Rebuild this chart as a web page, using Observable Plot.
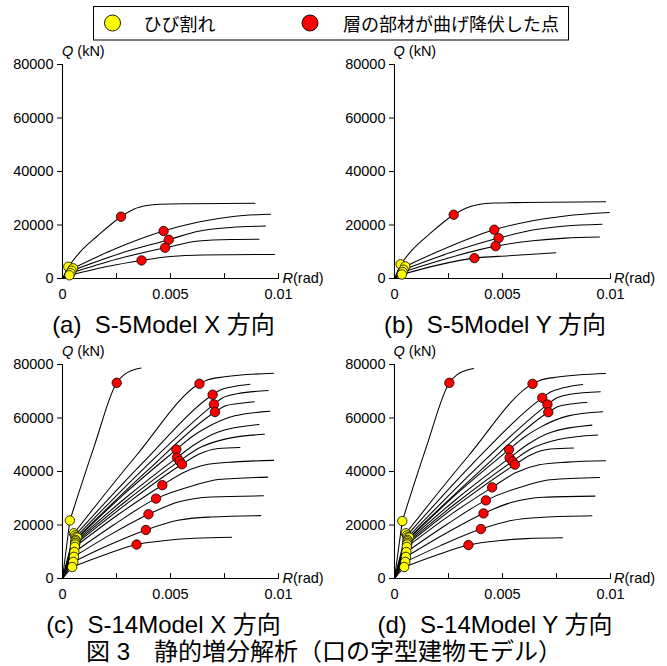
<!DOCTYPE html>
<html><head><meta charset="utf-8">
<script src="https://cdn.jsdelivr.net/npm/d3@7"></script>
<script src="https://cdn.jsdelivr.net/npm/@observablehq/plot@0.6"></script>
<style>
body{margin:0;background:#fff;}
#fig{position:relative;width:667px;height:666px;overflow:hidden;background:#fff;}
#fig svg{position:absolute;}
</style></head><body><div id="fig"></div>
<script>
// ---------- data (R in rad, Q in kN) ----------
const xTicks = [0.0025, 0.005, 0.0075, 0.01];
const xLabels = [0, 0.005, 0.01];
const yTicks = [0, 20000, 40000, 60000, 80000];

const legendLabels = ["ひび割れ", "層の部材が曲げ降伏した点"];
const panelCaptions = ["(a)  S-5Model X 方向", "(b)  S-5Model Y 方向", "(c)  S-14Model X 方向", "(d)  S-14Model Y 方向"];
const figureCaption = "図 3　静的増分解析（口の字型建物モデル）";

// (a) S-5Model X
const aCracks = [[0.00027,4400],[0.00049,3800],[0.00042,2900],[0.00037,2000],[0.00032,1200]];
const aYields = [[0.00271,23100],[0.00468,17750],[0.00492,14500],[0.00475,11500],[0.00366,6750]];
const aCurves = [
  [[0,0],[0.00027,4400],[0.0008,9800],[0.0016,15800],[0.00271,23100],[0.0033,25900],[0.0039,27250],[0.0045,27750],[0.006,27950],[0.00891,28100]],
  [[0,0],[0.00049,3800],[0.0025,11300],[0.00468,17750],[0.0063,21100],[0.0079,23200],[0.00963,24000]],
  [[0,0],[0.00042,2900],[0.0026,9200],[0.00492,14500],[0.0063,17700],[0.0078,19100],[0.0094,19650]],
  [[0,0],[0.00037,2000],[0.0025,7200],[0.00475,11500],[0.0063,14000],[0.0078,14600],[0.00909,14700]],
  [[0,0],[0.00032,1200],[0.002,4400],[0.00366,6750],[0.005,8200],[0.0065,8800],[0.00982,9000]]
];

// (b) S-5Model Y
const bCracks = [[0.00028,5300],[0.0005,4500],[0.00042,3300],[0.00038,2400],[0.00034,1500]];
const bYields = [[0.00274,23840],[0.00462,18220],[0.00482,15100],[0.00468,12100],[0.0037,7610]];
const bCurves = [
  [[0,0],[0.00028,5300],[0.0008,10500],[0.0016,16500],[0.00274,23840],[0.0033,26300],[0.0039,27700],[0.0046,28200],[0.006,28400],[0.00977,28700]],
  [[0,0],[0.0005,4500],[0.0025,11800],[0.00462,18220],[0.0064,21600],[0.0079,23400],[0.00995,24700]],
  [[0,0],[0.00042,3300],[0.0026,9700],[0.00482,15100],[0.0064,18100],[0.0079,19600],[0.00961,20300]],
  [[0,0],[0.00038,2400],[0.0025,7700],[0.00468,12100],[0.0064,14100],[0.0079,15100],[0.00949,15500]],
  [[0,0],[0.00034,1500],[0.002,5000],[0.0037,7610],[0.0053,8500],[0.0064,9100],[0.00747,9600]]
];

// (c) S-14Model X
const cCracks = [[0.00034,21700],[0.00053,16900],[0.00058,16100],[0.00061,15400],[0.00068,15300],[0.00061,14400],[0.0006,13900],
  [0.00059,13300],[0.00058,12700],[0.00057,11800],[0.00055,9900],[0.00053,8100],[0.0005,6200],[0.00045,4300]];
const cYields = [[0.00251,73150],[0.00634,72800],[0.00695,68700],[0.00701,65100],[0.00706,62250],[0.00527,48200],[0.0053,45200],
  [0.00542,43950],[0.00553,42700],[0.00462,34880],[0.00433,29860],[0.00398,24000],[0.00386,18150],[0.00343,12700]];
const cCurves = [
  [[0,0],[0.00034,21700],[0.00147,49500],[0.00251,73150],[0.00287,76300],[0.00318,77700],[0.00364,78700]],
  [[0,0],[0.00053,16900],[0.0034,45800],[0.00634,72800],[0.00667,74100],[0.00752,75400],[0.00977,76750]],
  [[0,0],[0.00058,16100],[0.0037,43100],[0.00695,68700],[0.00728,70400],[0.00783,71600],[0.00868,72600]],
  [[0,0],[0.00061,15400],[0.0038,41400],[0.00701,65100],[0.00736,67300],[0.00814,69150],[0.00953,70250]],
  [[0,0],[0.00068,15300],[0.0039,40100],[0.00706,62250],[0.00752,64500],[0.00814,65400],[0.00888,66100]],
  [[0,0],[0.00061,14400],[0.0029,31900],[0.00527,48200],[0.00597,52900],[0.00674,56700],[0.00798,60800],[0.00961,62500]],
  [[0,0],[0.0006,13900],[0.0029,30000],[0.0053,45200],[0.00612,50100],[0.00721,54800],[0.0091,57600]],
  [[0,0],[0.00059,13300],[0.0029,28700],[0.00542,43950],[0.00628,48600],[0.00752,52100],[0.00935,53900]],
  [[0,0],[0.00058,12700],[0.003,28100],[0.00553,42700],[0.00628,46350],[0.00721,48600],[0.00821,48950]],
  [[0,0],[0.00057,11800],[0.0026,24000],[0.00462,34880],[0.00566,39850],[0.00674,42700],[0.00798,43600],[0.00977,44150]],
  [[0,0],[0.00055,9900],[0.0024,20200],[0.00433,29860],[0.00612,34900],[0.00721,37000],[0.0095,37900]],
  [[0,0],[0.00053,8100],[0.0022,16300],[0.00398,24000],[0.00535,28600],[0.0069,30500],[0.0093,30900]],
  [[0,0],[0.0005,6200],[0.0021,12300],[0.00386,18150],[0.00535,21800],[0.0069,23000],[0.00918,23500]],
  [[0,0],[0.00045,4300],[0.0019,8700],[0.00343,12700],[0.00488,14300],[0.00612,15050],[0.00783,15400]]
];

// (d) S-14Model Y
const dCracks = [[0.00036,21460],[0.00053,16900],[0.00058,16100],[0.00061,15400],[0.00068,15300],[0.00061,14400],[0.0006,13900],
  [0.00059,13300],[0.00058,12700],[0.00057,11800],[0.00055,9900],[0.00053,8100],[0.0005,6200],[0.00045,4300]];
const dYields = [[0.00254,73150],[0.00639,72770],[0.00684,67530],[0.00708,65030],[0.00712,62150],[0.0053,48180],[0.00533,45070],
  [0.00546,43800],[0.00557,42560],[0.00452,34070],[0.00423,29200],[0.00412,24330],[0.004,18490],[0.00342,12500]];
const dCurves = [
  [[0,0],[0.00036,21460],[0.00148,49300],[0.00254,73150],[0.0029,76200],[0.0032,77500],[0.00366,78500]],
  [[0,0],[0.00053,16900],[0.0034,45600],[0.00639,72770],[0.00672,74000],[0.00755,75300],[0.00977,76640]],
  [[0,0],[0.00058,16100],[0.0036,42800],[0.00684,67530],[0.00722,69700],[0.00783,71300],[0.00871,72520]],
  [[0,0],[0.00061,15400],[0.0038,41300],[0.00708,65030],[0.00742,67100],[0.00814,68900],[0.00953,69800]],
  [[0,0],[0.00068,15300],[0.0039,39800],[0.00712,62150],[0.00755,64200],[0.00814,65200],[0.00891,65800]],
  [[0,0],[0.00061,14400],[0.0029,31800],[0.0053,48180],[0.006,52800],[0.00676,56600],[0.008,60700],[0.00964,62320]],
  [[0,0],[0.0006,13900],[0.0029,29900],[0.00533,45070],[0.00614,50000],[0.00722,54600],[0.00914,57340]],
  [[0,0],[0.00059,13300],[0.0029,28500],[0.00546,43800],[0.0063,48400],[0.00754,51900],[0.00941,53610]],
  [[0,0],[0.00058,12700],[0.003,28000],[0.00557,42560],[0.0063,46200],[0.00722,48400],[0.00828,48750]],
  [[0,0],[0.00057,11800],[0.0026,23900],[0.00452,34070],[0.0056,39500],[0.0067,42500],[0.008,43500],[0.00977,44000]],
  [[0,0],[0.00055,9900],[0.0024,20100],[0.00423,29200],[0.0061,34800],[0.0072,36900],[0.00949,37760]],
  [[0,0],[0.00053,8100],[0.0022,16100],[0.00412,24330],[0.0054,28400],[0.0069,30400],[0.00928,30800]],
  [[0,0],[0.0005,6200],[0.0021,12200],[0.004,18490],[0.0054,21700],[0.0069,22900],[0.00914,23440]],
  [[0,0],[0.00045,4300],[0.0019,8600],[0.00342,12500],[0.0049,14200],[0.0061,14900],[0.00778,15210]]
];

// ---------- layout ----------
const FONT = "'Liberation Sans', Arial, 'Noto Sans CJK JP', sans-serif";
const SVG_W = 330, SVG_H = 268, M_L = 62, M_R = 52, M_T = 24, M_B = 30;
const FRAME_W = SVG_W - M_L - M_R, FRAME_H = SVG_H - M_T - M_B;
const panels = [
  {curves: aCurves, cracks: aCracks, yields: aYields, left: 0, top: 40},
  {curves: bCurves, cracks: bCracks, yields: bYields, left: 331.5, top: 40},
  {curves: cCurves, cracks: cCracks, yields: cYields, left: 0, top: 340},
  {curves: dCurves, cracks: dCracks, yields: dYields, left: 331.5, top: 340}
];

const fig = document.getElementById("fig");
const tickUp = {draw(context, l) { context.moveTo(0, 0); context.lineTo(0, -l); }};

function makePanel(p) {
  // straight elastic branch (origin -> cracking), smooth branch afterwards
  const elastic = p.curves.flatMap((pts, i) => pts.slice(0, 2).map(([R, Q]) => ({R, Q, s: i})));
  const plastic = p.curves.flatMap((pts, i) => pts.slice(1).map(([R, Q]) => ({R, Q, s: i})));
  const chart = Plot.plot({
    width: SVG_W, height: SVG_H,
    marginLeft: M_L, marginRight: M_R, marginTop: M_T, marginBottom: M_B,
    x: {domain: [0, 0.01], axis: null},
    y: {domain: [0, 80000], axis: null},
    style: {fontFamily: FONT, fontSize: "14.5px", color: "#000", background: "transparent", overflow: "visible"},
    marks: [
      Plot.axisY({ticks: yTicks, label: null, tickSize: 5, tickPadding: 4, tickFormat: d => String(d), stroke: "#000", fill: "#000"}),
      Plot.axisX({ticks: xLabels, label: null, tickSize: 0, tickPadding: 10, tickFormat: d => String(d), fill: "#000"}),
      Plot.vector(xTicks, {x: d => d, y: () => 0, length: 5, anchor: "start", shape: tickUp, stroke: "#000", strokeWidth: 1}),
      Plot.ruleX([0], {stroke: "#000", strokeWidth: 1.1}),
      Plot.ruleY([0], {stroke: "#000", strokeWidth: 1.1}),
      Plot.line(elastic, {x: "R", y: "Q", z: "s", curve: "linear", stroke: "#000", strokeWidth: 1.05}),
      Plot.line(plastic, {x: "R", y: "Q", z: "s", curve: "monotone-x", stroke: "#000", strokeWidth: 1.05}),
      Plot.dot(p.cracks, {x: d => d[0], y: d => d[1], r: 4.7, fill: "#ffff00", stroke: "#000", strokeWidth: 0.8}),
      Plot.dot(p.yields, {x: d => d[0], y: d => d[1], r: 4.7, fill: "#ff0000", stroke: "#000", strokeWidth: 0.8})
    ]
  });
  chart.style.left = p.left + "px";
  chart.style.top = p.top + "px";
  fig.appendChild(chart);
}
panels.forEach(makePanel);

// ---------- text overlay, legend ----------
const ov = d3.select(fig).append("svg")
  .attr("width", 667).attr("height", 666)
  .style("left", "0px").style("top", "0px").style("pointer-events", "none")
  .attr("font-family", FONT).attr("fill", "#000");

panels.forEach((p, i) => {
  const x0 = p.left + M_L, x1 = x0 + FRAME_W, yT = p.top + M_T, y0 = yT + FRAME_H;
  const q = ov.append("text").attr("x", x0).attr("y", yT - 8.5).attr("font-size", 14.5);
  q.append("tspan").attr("font-style", "italic").text("Q");
  q.append("tspan").text(" (kN)");
  const r = ov.append("text").attr("x", x1 + 4.5).attr("y", y0 + 5).attr("font-size", 14.5);
  r.append("tspan").attr("font-style", "italic").text("R");
  r.append("tspan").text("(rad)");
  ov.append("text").attr("x", x0 + 101.5).attr("y", y0 + 54.5).attr("font-size", 24)
    .attr("text-anchor", "middle").style("white-space", "pre").text(panelCaptions[i]);
});

ov.append("text").attr("x", 86).attr("y", 659.5).attr("font-size", 24)
  .style("white-space", "pre").text(figureCaption);

// legend
ov.append("rect").attr("x", 93.5).attr("y", 6.5).attr("width", 475).attr("height", 33.5)
  .attr("fill", "none").attr("stroke", "#000").attr("stroke-width", 1);
ov.append("circle").attr("cx", 112.5).attr("cy", 23).attr("r", 8).attr("fill", "#ffff00").attr("stroke", "#000").attr("stroke-width", 0.9);
ov.append("circle").attr("cx", 310).attr("cy", 23).attr("r", 8).attr("fill", "#ff0000").attr("stroke", "#000").attr("stroke-width", 0.9);
ov.append("text").attr("x", 143.5).attr("y", 30.5).attr("font-size", 18).text(legendLabels[0]);
ov.append("text").attr("x", 343).attr("y", 30.5).attr("font-size", 18).text(legendLabels[1]);
</script></body></html>
